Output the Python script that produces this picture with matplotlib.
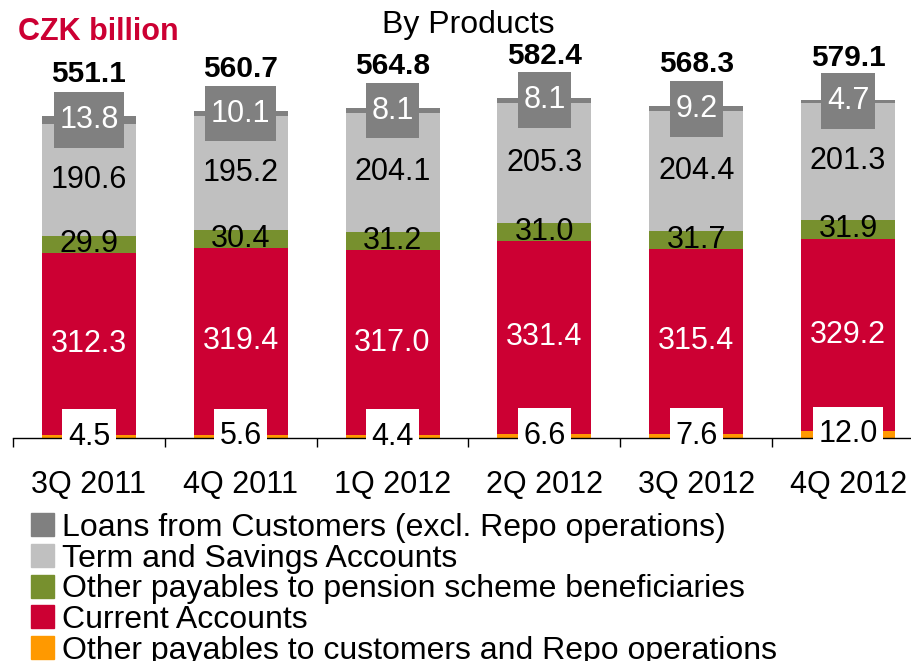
import matplotlib
matplotlib.use('Agg')
import matplotlib.pyplot as plt
from matplotlib.path import Path
from matplotlib.patches import Patch
import numpy as np

plt.rcParams['font.family'] = ['Liberation Sans', 'DejaVu Sans']

quarters = ['3Q 2011', '4Q 2011', '1Q 2012', '2Q 2012', '3Q 2012', '4Q 2012']
other_payables = [4.5, 5.6, 4.4, 6.6, 7.6, 12.0]
current_accounts = [312.3, 319.4, 317.0, 331.4, 315.4, 329.2]
pension = [29.9, 30.4, 31.2, 31.0, 31.7, 31.9]
term_savings = [190.6, 195.2, 204.1, 205.3, 204.4, 201.3]
loans = [13.8, 10.1, 8.1, 8.1, 9.2, 4.7]
totals = [551.1, 560.7, 564.8, 582.4, 568.3, 579.1]

names = ['Other payables to customers and Repo operations', 'Current Accounts',
         'Other payables to pension scheme beneficiaries', 'Term and Savings Accounts',
         'Loans from Customers (excl. Repo operations)']
colors = ['#FF9900', '#CC0033', '#77902E', '#C0C0C0', '#808080']


def rect_box(x0, y0, width, height, mutation_size):
    # square box with more vertical than horizontal padding
    px = 0.18 * mutation_size
    py = 0.42 * mutation_size
    x0, y0 = x0 - px, y0 - py
    x1, y1 = x0 + width + 2 * px, y0 + height + 2 * py
    return Path([(x0, y0), (x1, y0), (x1, y1), (x0, y1), (x0, y0)], closed=True)


fig = plt.figure(figsize=(9.12, 6.61), dpi=100)
ax = fig.add_axes([13 / 912, 223 / 661, 911 / 912, 438 / 661])

x = np.arange(len(quarters))
series = [other_payables, current_accounts, pension, term_savings, loans]
bottom = np.zeros(len(quarters))
for vals, col, name in zip(series, colors, names):
    ax.bar(x, vals, bottom=bottom, width=0.62, color=col, label=name, zorder=2)
    for i, v in enumerate(vals):
        yc = bottom[i] + v / 2
        if col == '#FF9900':
            ax.text(i, yc, f'{v:.1f}', ha='center', va='center', fontsize=22, color='black',
                    bbox=dict(boxstyle=rect_box, fc='white', ec='none'), zorder=5)
        elif col == '#808080':
            ax.text(i, yc, f'{v:.1f}', ha='center', va='center', fontsize=22, color='white',
                    bbox=dict(boxstyle=rect_box, fc='#808080', ec='none'), zorder=5)
        elif col == '#CC0033':
            ax.text(i, yc, f'{v:.1f}', ha='center', va='center', fontsize=22, color='white', zorder=4)
        else:
            ax.text(i, yc, f'{v:.1f}', ha='center', va='center', fontsize=22, color='black', zorder=4)
    bottom += np.array(vals)

for i, t in enumerate(totals):
    ax.annotate(f'{t:.1f}', (i, t), xytext=(0, 30), textcoords='offset points',
                ha='center', va='center', fontsize=21.5, fontweight='bold')

ax.set_xlim(-0.5, 5.5)
ax.set_ylim(0, 750)
ax.set_xticks(x)
ax.set_xticklabels(quarters, fontsize=22)
ax.set_xticks(np.arange(-0.5, 6, 1), minor=True)
ax.tick_params(axis='x', which='major', length=0, pad=23)
ax.tick_params(axis='x', which='minor', length=6.5, width=1, direction='out')
ax.set_yticks([])
for s in ['top', 'right', 'left']:
    ax.spines[s].set_visible(False)
ax.spines['bottom'].set_linewidth(1)

handles = [Patch(color=c) for c in colors][::-1]
fig.legend(handles, names[::-1], loc='upper left', bbox_to_anchor=(31 / 912, 1 - 513 / 661),
           frameon=False, fontsize=23, handlelength=0.72, handleheight=0.72,
           handletextpad=0.25, labelspacing=0.02, borderpad=0, borderaxespad=0)

fig.text(468 / 912, 1 - 25 / 661, 'By Products', ha='center', va='center', fontsize=23)
fig.text(18 / 912, 1 - 32 / 661, 'CZK billion', ha='left', va='center', fontsize=22,
         fontweight='bold', color='#CC0033')

fig.savefig('out.png', dpi=100)
